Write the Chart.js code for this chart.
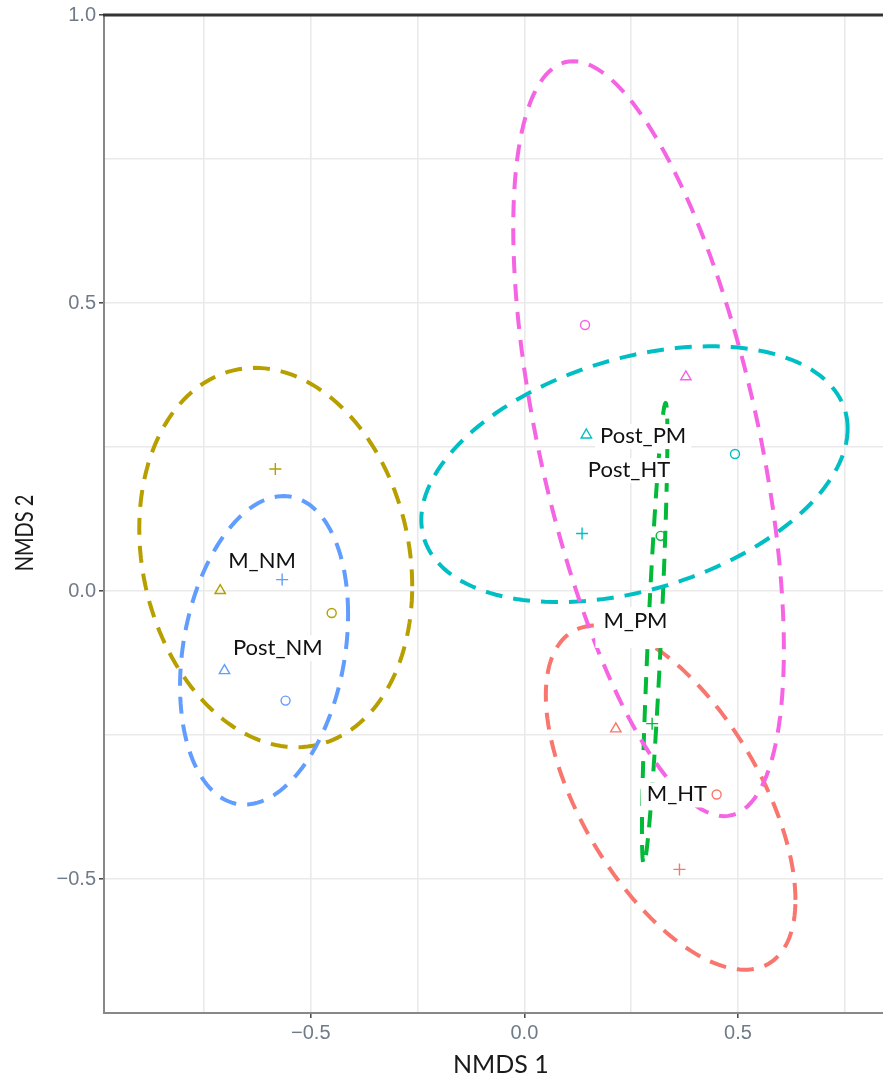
<!DOCTYPE html>
<html><head><meta charset="utf-8">
<script src="https://cdn.jsdelivr.net/npm/chart.js@4.4.1/dist/chart.umd.min.js"></script>
<style>html,body{margin:0;padding:0;overflow:hidden;background:#fff}canvas{display:block}</style>
</head><body>
<canvas id="c" width="905" height="1080"></canvas>
<script>
// ---- data (NMDS scores) ----
const groupNames  = ['M_HT', 'M_NM', 'M_PM', 'Post_HT', 'Post_NM', 'Post_PM'];
const groupColors = ['#F8766D', '#B79F00', '#00BA38', '#00BFC4', '#619CFF', '#F564E3'];
const replicateShapes = ['triangle', 'cross', 'circle'];   // order of values in each array

const M_HT_NMDS1    = [0.214, 0.363, 0.450];
const M_HT_NMDS2    = [-0.239, -0.483, -0.353];
const M_NM_NMDS1    = [-0.712, -0.583, -0.451];
const M_NM_NMDS2    = [0.001, 0.212, -0.038];
const M_PM_NMDS1    = [0.297, 0.299, 0.319];
const M_PM_NMDS2    = [-0.086, -0.230, 0.096];
const Post_HT_NMDS1 = [0.145, 0.135, 0.493];
const Post_HT_NMDS2 = [0.271, 0.100, 0.238];
const Post_NM_NMDS1 = [-0.702, -0.567, -0.559];
const Post_NM_NMDS2 = [-0.138, 0.020, -0.190];
const Post_PM_NMDS1 = [0.378, 0.352, 0.142];
const Post_PM_NMDS2 = [0.372, -0.040, 0.462];

const groupNMDS1 = [M_HT_NMDS1, M_NM_NMDS1, M_PM_NMDS1, Post_HT_NMDS1, Post_NM_NMDS1, Post_PM_NMDS1];
const groupNMDS2 = [M_HT_NMDS2, M_NM_NMDS2, M_PM_NMDS2, Post_HT_NMDS2, Post_NM_NMDS2, Post_PM_NMDS2];

const xTickValues = [-0.5, 0, 0.5];
const xTickLabels = ['\u22120.5', '0.0', '0.5'];
const yTickValues = [-0.5, 0, 0.5, 1.0];
const yTickLabels = ['\u22120.5', '0.0', '0.5', '1.0'];
const xMinorValues = [-0.75, -0.25, 0.25, 0.75];
const yMinorValues = [-0.25, 0.25, 0.75];

const labelTexts = ['M_NM', 'Post_NM', 'Post_PM', 'Post_HT', 'M_PM', 'M_HT'];
const labelNMDS1 = [-0.614, -0.577, 0.278, 0.245, 0.260, 0.357];
const labelNMDS2 = [0.053, -0.098, 0.270, 0.211, -0.051, -0.352];

const xTitle = 'NMDS 1';
const yTitle = 'NMDS 2';

// ---- styles ----
const labelBoxPads = [[5,5,4,4],[5,5,5,6],[5,5,4,6],[5,5,4,6],[8,14,6,20],[6,3,4,6]];
const shapeRadius = {triangle: 6, cross: 6, circle: 4.5};

// 95% covariance ellipse (vegan-style, scale = sqrt(qchisq(0.95, 2)))
function covEllipse(xs, ys) {
  const n = xs.length;
  const mx = xs.reduce((a, b) => a + b, 0) / n;
  const my = ys.reduce((a, b) => a + b, 0) / n;
  let sxx = 0, syy = 0, sxy = 0;
  for (let i = 0; i < n; i++) {
    const dx = xs[i] - mx, dy = ys[i] - my;
    sxx += dx * dx; syy += dy * dy; sxy += dx * dy;
  }
  sxx /= (n - 1); syy /= (n - 1); sxy /= (n - 1);
  const k = Math.sqrt(5.991464547);
  const a = Math.sqrt(sxx), b = sxy / a, c = Math.sqrt(Math.max(syy - b * b, 0));
  const pts = [];
  const steps = 160;
  for (let s = 0; s <= steps; s++) {
    const t = 2 * Math.PI * s / steps;
    pts.push({x: mx + k * a * Math.cos(t), y: my + k * (b * Math.cos(t) + c * Math.sin(t))});
  }
  return pts;
}

const datasets = [];
groupNames.forEach((g, gi) => {
  datasets.push({
    label: g,
    type: 'scatter',
    data: groupNMDS1[gi].map((v, i) => ({x: v, y: groupNMDS2[gi][i]})),
    pointStyle: replicateShapes,
    pointRadius: replicateShapes.map(s => shapeRadius[s]),
    pointBorderColor: groupColors[gi],
    pointBackgroundColor: 'rgba(0,0,0,0)',
    pointBorderWidth: 1.4,
    showLine: false,
    order: 0
  });
});
// ellipse order: later groups on top
groupNames.forEach((g, gi) => {
  datasets.push({
    label: g + ' ellipse',
    type: 'scatter',
    data: covEllipse(groupNMDS1[gi], groupNMDS2[gi]),
    showLine: true,
    borderColor: groupColors[gi],
    borderWidth: 4,
    borderDash: [17, 11],
    borderCapStyle: 'butt',
    pointRadius: 0,
    fill: false,
    tension: 0,
    order: groupNames.length - gi
  });
});

const overlay = {
  id: 'overlay',
  afterDatasetsDraw(chart) {
    const ctx = chart.ctx, xs = chart.scales.x, ys = chart.scales.y;
    ctx.save();
    ctx.font = '22px Lato';
    const capH = ctx.measureText('M').actualBoundingBoxAscent;
    labelTexts.forEach((t, i) => {
      const cx = xs.getPixelForValue(labelNMDS1[i]);
      const cy = ys.getPixelForValue(labelNMDS2[i]);
      const w = ctx.measureText(t).width;
      const p = labelBoxPads[i];
      ctx.fillStyle = '#ffffff';
      ctx.fillRect(cx - w / 2 - p[0], cy - capH / 2 - p[2], w + p[0] + p[1], capH + p[2] + p[3]);
      ctx.fillStyle = '#111111';
      ctx.textAlign = 'center';
      ctx.textBaseline = 'alphabetic';
      ctx.fillText(t, cx, cy + capH / 2);
    });
    ctx.restore();
  },
  afterDraw(chart) {
    const ctx = chart.ctx, a = chart.chartArea;
    ctx.save();
    ctx.strokeStyle = '#333333';
    ctx.lineWidth = 3;
    ctx.beginPath();
    ctx.moveTo(a.left - 1, a.top);
    ctx.lineTo(chart.width, a.top);
    ctx.stroke();
    // y axis title
    ctx.translate(25, 533);
    ctx.rotate(-Math.PI / 2);
    ctx.scale(0.8, 1);
    ctx.font = '25px Lato';
    ctx.fillStyle = '#1a1a1a';
    ctx.textAlign = 'center';
    ctx.textBaseline = 'middle';
    ctx.fillText(yTitle, 0, 0);
    ctx.restore();
  }
};

function isMajor(v, list) { return list.some(m => Math.abs(m - v) < 1e-9); }

function build() {
  new Chart(document.getElementById('c'), {
    type: 'scatter',
    data: {datasets},
    plugins: [overlay],
    options: {
      responsive: false,
      animation: false,
      devicePixelRatio: 1,
      layout: {padding: {top: 13.5, right: 0, left: 0, bottom: 0}},
      plugins: {legend: {display: false}, tooltip: {enabled: false}},
      scales: {
        x: {
          type: 'linear', min: -0.984, max: 0.8736,
          afterBuildTicks: s => { s.ticks = [...xMinorValues, ...xTickValues].sort((a, b) => a - b).map(v => ({value: v})); },
          afterFit: s => { s.height = 67; },
          ticks: {
            autoSkip: false, maxRotation: 0, padding: 3,
            font: {family: 'Liberation Sans', size: 20}, color: '#6f7b88',
            callback: v => { const i = xTickValues.findIndex(m => Math.abs(m - v) < 1e-9); return i >= 0 ? xTickLabels[i] : ''; }
          },
          grid: {
            color: '#EAEAEA', lineWidth: 1.6, tickLength: 5, tickWidth: 1.5,
            tickColor: c => isMajor(c.tick.value, xTickValues) ? '#444444' : 'rgba(0,0,0,0)'
          },
          border: {display: true, color: '#888888', width: 2},
          title: {display: true, text: xTitle, font: {family: 'Lato', size: 25}, color: '#1a1a1a', padding: {top: 0, bottom: 0}}
        },
        y: {
          type: 'linear', min: -0.7322, max: 1.0,
          afterBuildTicks: s => { s.ticks = [...yMinorValues, ...yTickValues].sort((a, b) => a - b).map(v => ({value: v})); },
          afterFit: s => { s.width = 104; },
          ticks: {
            autoSkip: false, padding: 3,
            font: {family: 'Liberation Sans', size: 20}, color: '#6f7b88',
            callback: v => { const i = yTickValues.findIndex(m => Math.abs(m - v) < 1e-9); return i >= 0 ? yTickLabels[i] : ''; }
          },
          grid: {
            color: '#EAEAEA', lineWidth: 1.6, tickLength: 5, tickWidth: 1.5,
            tickColor: c => isMajor(c.tick.value, yTickValues) ? '#444444' : 'rgba(0,0,0,0)'
          },
          border: {display: true, color: '#888888', width: 2},
          title: {display: false}
        }
      }
    }
  });
}

Promise.all([
  document.fonts.load('22px Lato'),
  document.fonts.load('25px Lato'),
  document.fonts.load('20px "Liberation Sans"')
]).then(build, build);
</script>
</body></html>
